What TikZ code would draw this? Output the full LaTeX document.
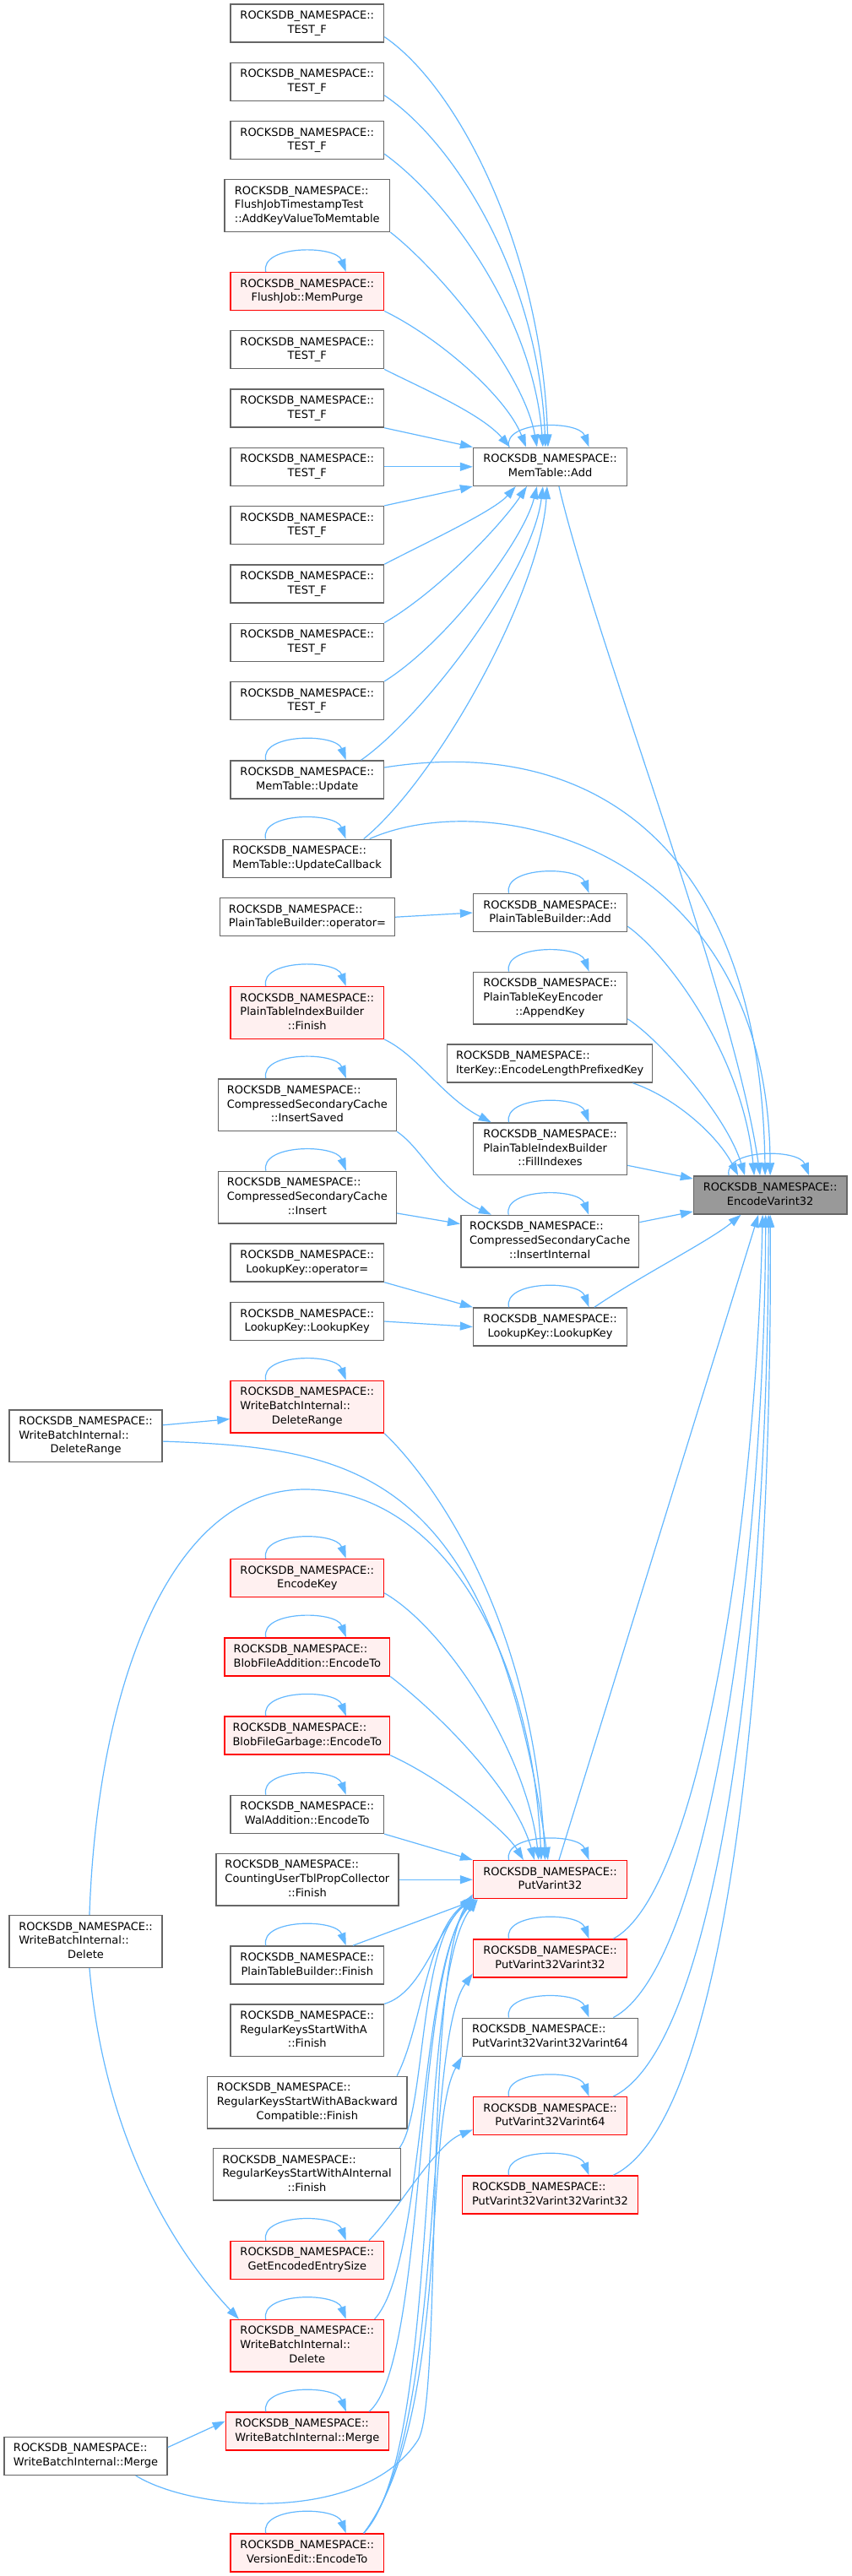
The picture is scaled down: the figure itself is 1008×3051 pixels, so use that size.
\documentclass[tikz,border=0pt]{standalone}
\usepackage{fontspec}
\setmainfont{DejaVu Sans}
\usetikzlibrary{arrows.meta}
\definecolor{edgec}{HTML}{63B8FF}
\definecolor{bord}{HTML}{666666}
\definecolor{redfill}{HTML}{FFF0F0}
\definecolor{rootfill}{HTML}{999999}
\newcommand\ltwo[2]{\begin{tabular}{@{}l@{}}#1\\\multicolumn{1}{@{}c@{}}{#2}\end{tabular}}
\newcommand\lthree[3]{\begin{tabular}{@{}l@{}}#1\\#2\\\multicolumn{1}{@{}c@{}}{#3}\end{tabular}}
\newcommand\RN{ROCKSDB\_NAMESPACE::}
\newcommand\selfloopedge[1]{\draw[edge] ([xshift=-24.5pt]#1.north) .. controls ([xshift=-28pt,yshift=16pt]#1.north) and ([xshift=17pt,yshift=16pt]#1.north) .. ([xshift=23pt]#1.north);}
\tikzset{
  nd/.style={draw=bord, fill=white, line width=0.75pt, inner sep=0pt,
    font=\fontsize{6.5}{8.35}\selectfont, minimum height=22.5pt, minimum width=90.75pt},
  tall/.style={minimum height=30.8pt},
  rd/.style={draw=red, fill=redfill},
  gr/.style={fill=rootfill},
  edge/.style={draw=edgec, line width=0.6pt, -{Triangle[length=7.5pt,width=5pt]}},
}
\begin{document}
\begin{tikzpicture}[x=0.5pt,y=-0.5pt]
\fill[white] (0,0) rectangle (1008,3051);
\useasboundingbox (0,0) rectangle (1008,3051);
% ---------- left-middle column ----------
\node[nd] (T1) at (363.75,27.5) {\ltwo{\RN}{TEST\_F}};
\node[nd] (T2) at (363.75,96.8) {\ltwo{\RN}{TEST\_F}};
\node[nd] (T3) at (363.75,166.2) {\ltwo{\RN}{TEST\_F}};
\node[nd,tall,minimum width=97.8pt] (FJT) at (363.8,243.5) {\lthree{\RN}{FlushJobTimestampTest}{::AddKeyValueToMemtable}};
\node[nd,rd] (MP) at (363.75,345.2) {\ltwo{\RN}{FlushJob::MemPurge}};
\node[nd] (T4) at (363.75,414.2) {\ltwo{\RN}{TEST\_F}};
\node[nd] (T5) at (363.75,483.5) {\ltwo{\RN}{TEST\_F}};
\node[nd] (T6) at (363.75,552.8) {\ltwo{\RN}{TEST\_F}};
\node[nd] (T7) at (363.75,622.2) {\ltwo{\RN}{TEST\_F}};
\node[nd] (T8) at (363.75,691.5) {\ltwo{\RN}{TEST\_F}};
\node[nd] (T9) at (363.75,760.8) {\ltwo{\RN}{TEST\_F}};
\node[nd] (T10) at (363.75,830.2) {\ltwo{\RN}{TEST\_F}};
\node[nd] (MTU) at (363.75,923.5) {\ltwo{\RN}{MemTable::Update}};
\node[nd,minimum width=99.35pt] (MTUC) at (363.55,1016.8) {\ltwo{\RN}{MemTable::UpdateCallback}};
\node[nd,minimum width=103.5pt] (PTBop) at (363.9,1086.2) {\ltwo{\RN}{PlainTableBuilder::operator=}};
\node[nd,tall,rd] (PTIBF) at (363.75,1199.5) {\lthree{\RN}{PlainTableIndexBuilder}{::Finish}};
\node[nd,tall,minimum width=105.45pt] (CSCIS) at (363.85,1308.7) {\lthree{\RN}{CompressedSecondaryCache}{::InsertSaved}};
\node[nd,tall,minimum width=105.45pt] (CSCI) at (363.85,1418.2) {\lthree{\RN}{CompressedSecondaryCache}{::Insert}};
\node[nd] (LKop) at (363.75,1495.5) {\ltwo{\RN}{LookupKey::operator=}};
\node[nd] (LKL) at (363.75,1565) {\ltwo{\RN}{LookupKey::LookupKey}};
\node[nd,tall,rd] (WBIDRr) at (363.75,1666.2) {\lthree{\RN}{WriteBatchInternal::}{DeleteRange}};
\node[nd,rd] (EK) at (363.75,1869) {\ltwo{\RN}{EncodeKey}};
\node[nd,rd,minimum width=97.75pt] (BFA) at (363.85,1962.4) {\ltwo{\RN}{BlobFileAddition::EncodeTo}};
\node[nd,rd,minimum width=97.75pt] (BFG) at (363.85,2055.7) {\ltwo{\RN}{BlobFileGarbage::EncodeTo}};
\node[nd] (WA) at (363.75,2148.9) {\ltwo{\RN}{WalAddition::EncodeTo}};
\node[nd,tall,minimum width=108pt] (CUT) at (363.9,2226.2) {\lthree{\RN}{CountingUserTblPropCollector}{::Finish}};
\node[nd] (PTBF) at (363.75,2327.5) {\ltwo{\RN}{PlainTableBuilder::Finish}};
\node[nd,tall] (RKA) at (363.75,2404.9) {\lthree{\RN}{RegularKeysStartWithA}{::Finish}};
\node[nd,tall,minimum width=118.25pt] (RKAB) at (363.85,2490.2) {\lthree{\RN}{RegularKeysStartWithABackward}{Compatible::Finish}};
\node[nd,tall,minimum width=110.9pt] (RKAI) at (363.5,2575.4) {\lthree{\RN}{RegularKeysStartWithAInternal}{::Finish}};
\node[nd,rd] (GEES) at (363.75,2676.8) {\ltwo{\RN}{GetEncodedEntrySize}};
\node[nd,tall,rd] (WBIDr) at (363.75,2778.3) {\lthree{\RN}{WriteBatchInternal::}{Delete}};
\node[nd,rd,minimum width=96.45pt] (WBIMr) at (363.85,2879.5) {\ltwo{\RN}{WriteBatchInternal::Merge}};
\node[nd,rd] (VEE) at (363.75,3023.5) {\ltwo{\RN}{VersionEdit::EncodeTo}};
% ---------- middle column ----------
\node[nd,minimum width=90.95pt] (MTA) at (651.55,552.8) {\ltwo{\RN}{MemTable::Add}};
\node[nd,minimum width=90.95pt] (PTBA) at (651.55,1081) {\ltwo{\RN}{PlainTableBuilder::Add}};
\node[nd,tall,minimum width=90.95pt] (PTKE) at (651.55,1182.2) {\lthree{\RN}{PlainTableKeyEncoder}{::AppendKey}};
\node[nd,minimum width=121.5pt] (IKE) at (651.2,1259.5) {\ltwo{\RN}{IterKey::EncodeLengthPrefixedKey}};
\node[nd,tall,minimum width=90.95pt] (FIdx) at (651.55,1360.8) {\lthree{\RN}{PlainTableIndexBuilder}{::FillIndexes}};
\node[nd,tall,minimum width=105.4pt] (CSCII) at (651.2,1470.2) {\lthree{\RN}{CompressedSecondaryCache}{::InsertInternal}};
\node[nd,minimum width=90.95pt] (LKR) at (651.55,1571.5) {\ltwo{\RN}{LookupKey::LookupKey}};
\node[nd,rd,minimum width=90.95pt] (PV32) at (651.55,2226.2) {\ltwo{\RN}{PutVarint32}};
\node[nd,rd,minimum width=90.95pt] (PV3232) at (651.55,2319.5) {\ltwo{\RN}{PutVarint32Varint32}};
\node[nd,minimum width=103.8pt] (PV323264) at (651.5,2412.8) {\ltwo{\RN}{PutVarint32Varint32Varint64}};
\node[nd,rd,minimum width=90.95pt] (PV3264) at (651.55,2506.2) {\ltwo{\RN}{PutVarint32Varint64}};
\node[nd,rd,minimum width=103.8pt] (PV323232) at (651.5,2599.5) {\ltwo{\RN}{PutVarint32Varint32Varint32}};
% ---------- root ----------
\node[nd,gr,minimum width=90.65pt] (EV32) at (912.15,1415.5) {\ltwo{\RN}{EncodeVarint32}};
% ---------- far left ----------
\node[nd,tall,minimum width=90.65pt] (WBIDRl) at (101.55,1700.7) {\lthree{\RN}{WriteBatchInternal::}{DeleteRange}};
\node[nd,tall,minimum width=90.65pt] (WBIDl) at (101.55,2299.5) {\lthree{\RN}{WriteBatchInternal::}{Delete}};
\node[nd,minimum width=96.45pt] (WBIMl) at (101.55,2908.8) {\ltwo{\RN}{WriteBatchInternal::Merge}};

% ---------- edges into MemTable::Add ----------
\draw[edge] (T1.-10) .. controls (545,105) and (642,300) .. ([xshift=-1.3pt]MTA.north);
\draw[edge] (T2.-10) .. controls (540,170) and (638,330) .. ([xshift=-2.8pt]MTA.north);
\draw[edge] (T3.-10) .. controls (535,240) and (632,380) .. ([xshift=-4.3pt]MTA.north);
\draw[edge] (FJT.south east) .. controls (520,320) and (620,440) .. ([xshift=-7.8pt]MTA.north);
\draw[edge] (MP.south east) .. controls (520,400) and (600,470) .. ([xshift=-14.3pt]MTA.north);
\draw[edge] (T4.south east) .. controls (500,460) and (570,490) .. ([xshift=-23.8pt]MTA.north);
\draw[edge] (T5.south east) -- (MTA.north west);
\draw[edge] (T6.east) -- (MTA.west);
\draw[edge] (T7.north east) -- (MTA.south west);
\draw[edge] (T8.north east) .. controls (510,640) and (585,605) .. ([xshift=-20.4pt]MTA.south);
\draw[edge] (T9.north east) .. controls (520,700) and (595,620) .. ([xshift=-13.8pt]MTA.south);
\draw[edge] (T10.north east) .. controls (530,760) and (620,640) .. ([xshift=-7.8pt]MTA.south);
\draw[edge] ([xshift=31.9pt]MTU.north) .. controls (500,850) and (630,680) .. ([xshift=-4.3pt]MTA.south);
\draw[edge] ([xshift=33.6pt]MTUC.north) .. controls (520,920) and (640,700) .. ([xshift=-1.8pt]MTA.south);
% ---------- edges into EncodeVarint32 ----------
\draw[edge] ([xshift=5.2pt]MTA.south) .. controls (705,760) and (870,1180) .. ([xshift=-6pt]EV32.north);
\draw[edge] (MTU.9) .. controls (700,870) and (900,1000) .. ([xshift=-3pt]EV32.north);
\draw[edge] ([xshift=-13pt]MTUC.north east) .. controls (580,930) and (910,1000) .. (EV32.north);
\draw[edge] (PTBA.-10) .. controls (790,1130) and (880,1250) .. ([xshift=-9.5pt]EV32.north);
\draw[edge] (PTKE.-15) .. controls (780,1230) and (860,1320) .. ([xshift=-15pt]EV32.north);
\draw[edge] ([xshift=-12pt]IKE.south east) .. controls (800,1300) and (850,1345) .. ([xshift=-19pt]EV32.north);
\draw[edge] (FIdx.-12) -- (EV32.168);
\draw[edge] (CSCII.12) -- (EV32.192);
\draw[edge] ([xshift=26.2pt]LKR.north) .. controls (760,1510) and (840,1470) .. ([xshift=-17.3pt]EV32.south);
\draw[edge] ([xshift=5.2pt]PV32.north) -- ([xshift=-7pt]EV32.south);
\draw[edge] ([xshift=37.4pt]PV3232.north) .. controls (830,2240) and (895,1800) .. ([xshift=-4.5pt]EV32.south);
\draw[edge] ([xshift=37.4pt]PV323264.north) .. controls (840,2330) and (905,1850) .. ([xshift=-2.7pt]EV32.south);
\draw[edge] ([xshift=37.4pt]PV3264.north) .. controls (855,2420) and (910,1900) .. ([xshift=-1pt]EV32.south);
\draw[edge] ([xshift=37.4pt]PV323232.north) .. controls (865,2510) and (915,1950) .. (EV32.south);
% ---------- other edges ----------
\draw[edge] (PTBop.east) -- (PTBA.west);
\draw[edge] (PTIBF.south east) .. controls (495,1250) and (525,1300) .. ([xshift=-34.9pt]FIdx.north);
\draw[edge] (CSCIS.south east) .. controls (500,1360) and (520,1410) .. ([xshift=-34.7pt]CSCII.north);
\draw[edge] (CSCI.-10) -- (CSCII.169);
\draw[edge] (LKop.south east) -- (LKR.north west);
\draw[edge] (LKL.east) -- (LKR.west);
\draw[edge] (WBIDRl.8) -- (WBIDRr.189);
% ---------- edges into PutVarint32 ----------
\draw[edge] (WBIDRl.-4) .. controls (420,1715) and (580,1740) .. ([xshift=-1.3pt]PV32.north);
\draw[edge] (WBIDRr.south east) .. controls (500,1740) and (630,1900) .. ([xshift=-3pt]PV32.north);
\draw[edge] ([xshift=2.2pt]WBIDl.north) .. controls (115,2000) and (200,1765) .. (360,1764) .. controls (520,1763) and (630,1950) .. ([xshift=-5.3pt]PV32.north);
\draw[edge] (EK.-11) .. controls (530,1930) and (625,2080) .. ([xshift=-6.8pt]PV32.north);
\draw[edge] (BFA.south east) .. controls (520,2030) and (610,2120) .. ([xshift=-9.3pt]PV32.north);
\draw[edge] (BFG.south east) .. controls (530,2110) and (600,2170) .. ([xshift=-15.8pt]PV32.north);
\draw[edge] (WA.south east) -- (PV32.north west);
\draw[edge] (CUT.east) -- (PV32.west);
\draw[edge] ([xshift=27.1pt]PTBF.north) -- ([xshift=2.5pt]PV32.south west);
\draw[edge] (RKA.north east) .. controls (500,2360) and (515,2290) .. ([yshift=2pt]PV32.south west);
\draw[edge] ([xshift=-6.4pt]RKAB.north east) .. controls (500,2400) and (505,2290) .. ([yshift=1pt]PV32.south west);
\draw[edge] ([xshift=-1pt]RKAI.north east) .. controls (505,2500) and (495,2300) .. (PV32.south west);
\draw[edge] ([xshift=36.6pt]GEES.north) .. controls (470,2620) and (515,2540) .. (PV3264.190);
\draw[edge] ([xshift=2.2pt]WBIDl.south) .. controls (125,2550) and (220,2680) .. ([xshift=-40.4pt]WBIDr.north);
\draw[edge] ([xshift=39.9pt]WBIDr.north) .. controls (505,2680) and (495,2330) .. ([xshift=1.5pt]PV32.south west);
\draw[edge] ([xshift=36.6pt]WBIMr.north) .. controls (505,2800) and (490,2340) .. ([xshift=1pt,yshift=1pt]PV32.south west);
\draw[edge] (WBIMl.6) -- (WBIMr.173);
\draw[edge] ([xshift=29.6pt]WBIMl.south) .. controls (230,2975) and (430,2990) .. (495,2890) .. controls (525,2840) and (500,2340) .. ([yshift=3pt]PV32.south west);
\draw[edge] ([xshift=33.5pt]VEE.north) .. controls (525,2900) and (490,2350) .. ([xshift=3pt]PV32.south west);
\draw[edge] ([xshift=33.5pt]VEE.north) .. controls (530,2880) and (500,2420) .. (PV3232.191);
\draw[edge] ([xshift=33.5pt]VEE.north) .. controls (535,2860) and (500,2520) .. (PV323264.south west);
% ---------- self loops ----------
\foreach \n in {MP,MTA,MTU,MTUC,PTBA,PTKE,PTIBF,CSCIS,FIdx,CSCI,CSCII,LKR,EV32,WBIDRr,EK,BFA,BFG,WA,PTBF,PV32,PV3232,PV323264,PV3264,PV323232,GEES,WBIDr,WBIMr,VEE}{\selfloopedge{\n}}
\end{tikzpicture}
\end{document}
